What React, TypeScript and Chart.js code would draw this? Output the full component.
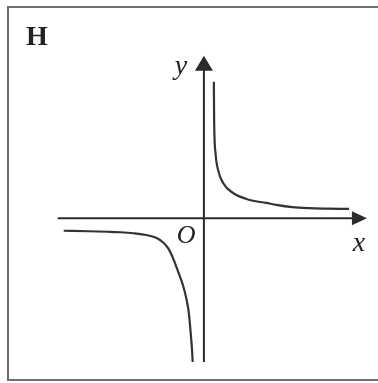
import React, { useEffect, useRef } from "react";
import { Chart, registerables } from "chart.js";

Chart.register(...registerables);

// Upper-right branch (x, y)
const upperX = [1.0, 1.03, 1.17, 1.43, 1.93, 2.93, 4.6, 6.27, 7.27, 8.9, 10.6, 12.27, 14.6];
const upperY = [13.75, 9.85, 6.55, 4.85, 3.55, 2.55, 1.85, 1.55, 1.35, 1.12, 1.02, 0.98, 0.95];
// Lower-left branch
const lowerX = [-14.1, -11.6, -9.7, -8.4, -7.1, -5.7, -4.7, -4.07, -3.57, -3.1, -2.6, -2.1, -1.75, -1.5, -1.32, -1.2, -1.13];
const lowerY = [-1.25, -1.3, -1.35, -1.4, -1.5, -1.7, -2.0, -2.45, -3.05, -4.02, -5.35, -6.75, -8.15, -9.65, -11.65, -13.15, -14.45];

// Axis extents (data units)
const xAxisStart = -14.7;
const xAxisEnd = 16.4;
const yAxisStart = -14.45;
const yAxisEnd = 16.35;

const panelLabel = "H";
const xLabel = "x";
const yLabel = "y";
const originLabel = "O";

const X_MIN = -20.4;
const X_MAX = 17.4;
const Y_MIN = -16.45;
const Y_MAX = 21.85;

const SERIF = "'Liberation Serif', 'Times New Roman', Times, serif";

const toPts = (xs: number[], ys: number[]) => xs.map((x, i) => ({ x, y: ys[i] }));

const axesPlugin = {
  id: "axesPlugin",
  beforeDatasetsDraw(chart: any) {
    const { ctx } = chart;
    const xs = chart.scales.x;
    const ys = chart.scales.y;
    const px = (v: number) => xs.getPixelForValue(v);
    const py = (v: number) => ys.getPixelForValue(v);
    const ox = px(0);
    const oy = py(0);
    const arrowLen = 15;
    const arrowHalf = 8;
    ctx.save();
    ctx.strokeStyle = "#2b2b2b";
    ctx.fillStyle = "#2b2b2b";
    ctx.lineWidth = 2;
    // x axis
    const xe = px(xAxisEnd);
    ctx.beginPath();
    ctx.moveTo(px(xAxisStart), oy);
    ctx.lineTo(xe - arrowLen + 1, oy);
    ctx.stroke();
    ctx.beginPath();
    ctx.moveTo(xe, oy);
    ctx.lineTo(xe - arrowLen, oy - arrowHalf + 1);
    ctx.lineTo(xe - arrowLen, oy + arrowHalf - 1);
    ctx.closePath();
    ctx.fill();
    // y axis
    const ye = py(yAxisEnd);
    ctx.beginPath();
    ctx.moveTo(ox, py(yAxisStart));
    ctx.lineTo(ox, ye + arrowLen - 1);
    ctx.stroke();
    ctx.beginPath();
    ctx.moveTo(ox, ye);
    ctx.lineTo(ox - arrowHalf - 1, ye + arrowLen);
    ctx.lineTo(ox + arrowHalf + 1, ye + arrowLen);
    ctx.closePath();
    ctx.fill();

    // labels
    ctx.textAlign = "center";
    ctx.textBaseline = "middle";
    ctx.fillStyle = "#222";
    ctx.font = "italic 28px " + SERIF;
    ctx.fillText(yLabel, px(-2.3), py(15.3));
    ctx.fillText(xLabel, px(15.6), py(-2.5));
    ctx.font = "italic 26px " + SERIF;
    ctx.fillText(originLabel, px(-1.8), py(-1.8));
    ctx.font = "bold 28px " + SERIF;
    ctx.fillText(panelLabel, px(-16.8), py(18.2));
    ctx.restore();
  },
};

export default function App() {
  const canvasRef = useRef<HTMLCanvasElement | null>(null);

  useEffect(() => {
    if (!canvasRef.current) return;
    const chart = new Chart(canvasRef.current, {
      type: "scatter",
      data: {
        datasets: [
          {
            data: toPts(upperX, upperY),
            showLine: true,
            borderColor: "#333",
            borderWidth: 2.2,
            pointRadius: 0,
            cubicInterpolationMode: "monotone",
          },
          {
            data: toPts(lowerX, lowerY),
            showLine: true,
            borderColor: "#333",
            borderWidth: 2.2,
            pointRadius: 0,
            cubicInterpolationMode: "monotone",
          },
        ],
      },
      options: {
        animation: false,
        responsive: false,
        maintainAspectRatio: false,
        layout: { padding: 0 },
        plugins: { legend: { display: false }, tooltip: { enabled: false }, title: { display: false } },
        scales: {
          x: { type: "linear", min: X_MIN, max: X_MAX, display: false },
          y: { type: "linear", min: Y_MIN, max: Y_MAX, display: false },
        },
      },
      plugins: [axesPlugin],
    } as any);
    let alive = true;
    const fonts: any = (document as any).fonts;
    if (fonts && fonts.load) {
      Promise.all([
        fonts.load("italic 28px 'Liberation Serif'"),
        fonts.load("bold 28px 'Liberation Serif'"),
      ])
        .then(() => {
          if (alive) chart.update();
        })
        .catch(() => {});
    }
    return () => {
      alive = false;
      chart.destroy();
    };
  }, []);

  return (
    <div style={{ position: "fixed", left: 0, top: 0, width: 378, height: 383, background: "#fff", overflow: "hidden" }}>
      <div
        style={{
          position: "absolute",
          left: 7,
          top: 6,
          width: 390,
          height: 375,
          border: "2px solid #6f6f6f",
          boxSizing: "border-box",
        }}
      />
      <canvas ref={canvasRef} width={378} height={383} style={{ position: "absolute", left: 0, top: 0, width: 378, height: 383 }} />
    </div>
  );
}
